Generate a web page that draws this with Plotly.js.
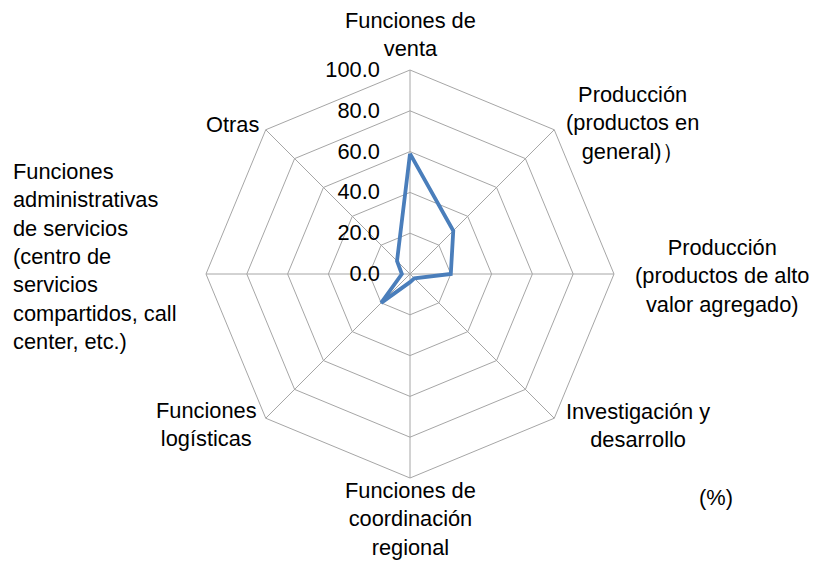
<!DOCTYPE html>
<html>
<head>
<meta charset="utf-8">
<script src="https://cdn.plot.ly/plotly-3.0.1.min.js"></script>
<style>
  html, body { margin: 0; padding: 0; background: #fff; }
  #chart { width: 815px; height: 563px; }
</style>
</head>
<body>
<div id="chart"></div>
<script>
  // categories (clockwise from the top) and values, in %
  const categories = [
    "Funciones de<br>venta",
    "Producción<br>(productos en<br>general)）",
    "Producción<br>(productos de alto<br>valor agregado)",
    "Investigación y<br>desarrollo",
    "Funciones de<br>coordinación<br>regional",
    "Funciones<br>logísticas",
    "Funciones<br>administrativas<br>de servicios<br>(centro de<br>servicios<br>compartidos, call<br>center, etc.)",
    "Otras"
  ]
  const values = [59, 30, 20, 3, 4, 20, 4, 9]
  const radialTicks = [0, 20, 40, 60, 80, 100]
  const unitLabel = "(%)"

  // where each category label sits, in px of the 815x563 page
  const labelPos = [
    {x: 410, y: 34, xanchor: "center", align: "center"},
    {x: 632, y: 123, xanchor: "center", align: "center"},
    {x: 722, y: 276, xanchor: "center", align: "center"},
    {x: 638, y: 425, xanchor: "center", align: "center"},
    {x: 410, y: 519, xanchor: "center", align: "center"},
    {x: 206, y: 424, xanchor: "center", align: "center"},
    {x: 11, y: 256, xanchor: "left", align: "left"},
    {x: 261, y: 124, xanchor: "right", align: "right"}
  ]

  const W = 815, H = 563
  const font = {family: "Liberation Sans, Arial, sans-serif", size: 21.8, color: "#000"}
  const gridColor = "#a6a6a6"

  // polar area: centre (410, 274), radius 204
  const cx = 410, cy = 274, R = 204

  const annotations = categories.map((text, i) => ({
    text, xref: "paper", yref: "paper",
    x: labelPos[i].x / W, y: 1 - labelPos[i].y / H,
    xanchor: labelPos[i].xanchor, yanchor: "middle", align: labelPos[i].align,
    showarrow: false, font
  }))
  annotations.push({
    text: unitLabel, xref: "paper", yref: "paper",
    x: 716 / W, y: 1 - 497 / H, xanchor: "center", yanchor: "middle",
    showarrow: false, font
  })

  const data = [{
    type: "scatterpolar", mode: "lines",
    r: [...values, values[0]],
    theta: [...categories, categories[0]],
    line: {color: "#4a7ebb", width: 3.8},
    hoverinfo: "skip", showlegend: false
  }]

  Plotly.newPlot("chart", data, {
    width: W, height: H,
    margin: {l: 0, r: 0, t: 0, b: 0},
    paper_bgcolor: "#fff",
    font,
    showlegend: false,
    polar: {
      domain: {x: [(cx - R) / W, (cx + R) / W], y: [1 - (cy + R) / H, 1 - (cy - R) / H]},
      gridshape: "linear",
      bgcolor: "rgba(0,0,0,0)",
      radialaxis: {
        range: [0, 100], tickvals: radialTicks, tickformat: ".1f",
        angle: 90, tickangle: 90, side: "counterclockwise",
        // invisible ticks push the labels away from the axis like in the original
        showline: false, ticks: "outside", ticklen: 22, tickcolor: "rgba(0,0,0,0)",
        gridcolor: gridColor, gridwidth: 1,
        tickfont: font
      },
      angularaxis: {
        type: "category", direction: "clockwise", rotation: 90,
        showticklabels: false, ticks: "",
        showline: true, linecolor: gridColor, linewidth: 1,
        gridcolor: gridColor, gridwidth: 1
      }
    },
    annotations
  }, {displayModeBar: false, staticPlot: true})
</script>
</body>
</html>
